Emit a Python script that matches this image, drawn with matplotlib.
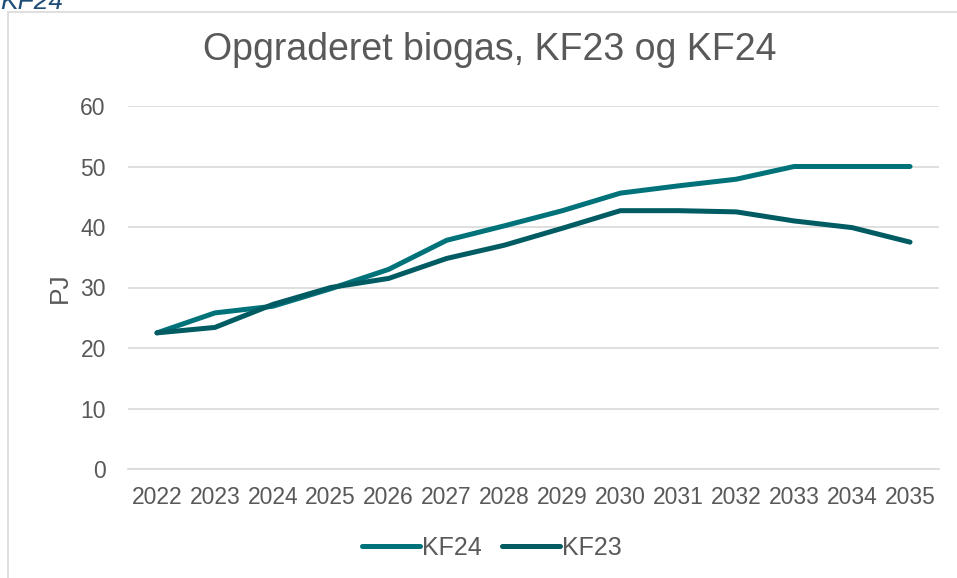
"""Opgraderet biogas, KF23 vs KF24 (line chart)."""

import matplotlib.pyplot as plt
from matplotlib.patches import Rectangle

years = [str(y) for y in range(2022, 2036)]
kf24 = [22.5, 25.8, 26.9, 29.8, 33.0, 37.8, 40.2, 42.7, 45.6, 46.8, 47.9, 50.0, 50.0, 50.0]
kf23 = [22.5, 23.4, 27.2, 30.0, 31.5, 34.8, 37.0, 39.8, 42.7, 42.7, 42.5, 41.0, 39.9, 37.5]
yticks = [0, 10, 20, 30, 40, 50, 60]

GREY = "#595959"
W, H = 957, 578


def main():
    plt.rcParams["font.family"] = ["Liberation Sans", "DejaVu Sans"]
    fig = plt.figure(figsize=(W / 100, H / 100), dpi=100)

    # chart area frame (partly cut off at right/bottom)
    fig.patches.append(Rectangle((8 / W, -0.01), 1.0, 1 - 12 / H + 0.01,
                                 transform=fig.transFigure, fill=False,
                                 edgecolor="#d9d9d9", linewidth=1.2))
    # caption from the page above, cut off at the top edge
    fig.text(0 / W, 1 + 10 / H, "KF24", color="#1F4E79", fontsize=19,
             style="italic", ha="left", va="top")

    ax = fig.add_axes([128 / W, 1 - 469 / H, (939 - 128) / W, (469 - 106) / H])
    x = range(len(years))
    ax.plot(x, kf24, color="#00727A", lw=3.6, solid_capstyle="round", label="KF24")
    ax.plot(x, kf23, color="#005C62", lw=3.6, solid_capstyle="round", label="KF23")

    ax.set_xlim(-0.5, len(years) - 0.5)
    ax.set_ylim(0, 60)
    ax.set_xticks(list(x))
    ax.set_xticklabels(years)
    ax.set_yticks(yticks)
    ax.grid(axis="y", color="#d9d9d9", lw=1.2)
    ax.set_axisbelow(True)
    for s in ["top", "right", "left"]:
        ax.spines[s].set_visible(False)
    ax.spines["bottom"].set_color("#d9d9d9")
    ax.spines["bottom"].set_linewidth(1.2)
    ax.tick_params(length=0, labelsize=16.5, colors=GREY, pad=12)
    ax.tick_params(axis="y", pad=16)
    ax.set_ylabel("PJ", fontsize=19, color=GREY, labelpad=6)

    fig.text(490 / W, 1 - 50 / H, "Opgraderet biogas, KF23 og KF24",
             fontsize=27, color=GREY, ha="center", va="center")

    leg = fig.legend(loc="center", bbox_to_anchor=(492 / W, 1 - 548 / H), ncol=2,
                     frameon=False, fontsize=18, handlelength=2.3,
                     handletextpad=0.1, columnspacing=0.8)
    for t in leg.get_texts():
        t.set_color(GREY)

    fig.savefig("out.png", dpi=100)


if __name__ == "__main__":
    main()
